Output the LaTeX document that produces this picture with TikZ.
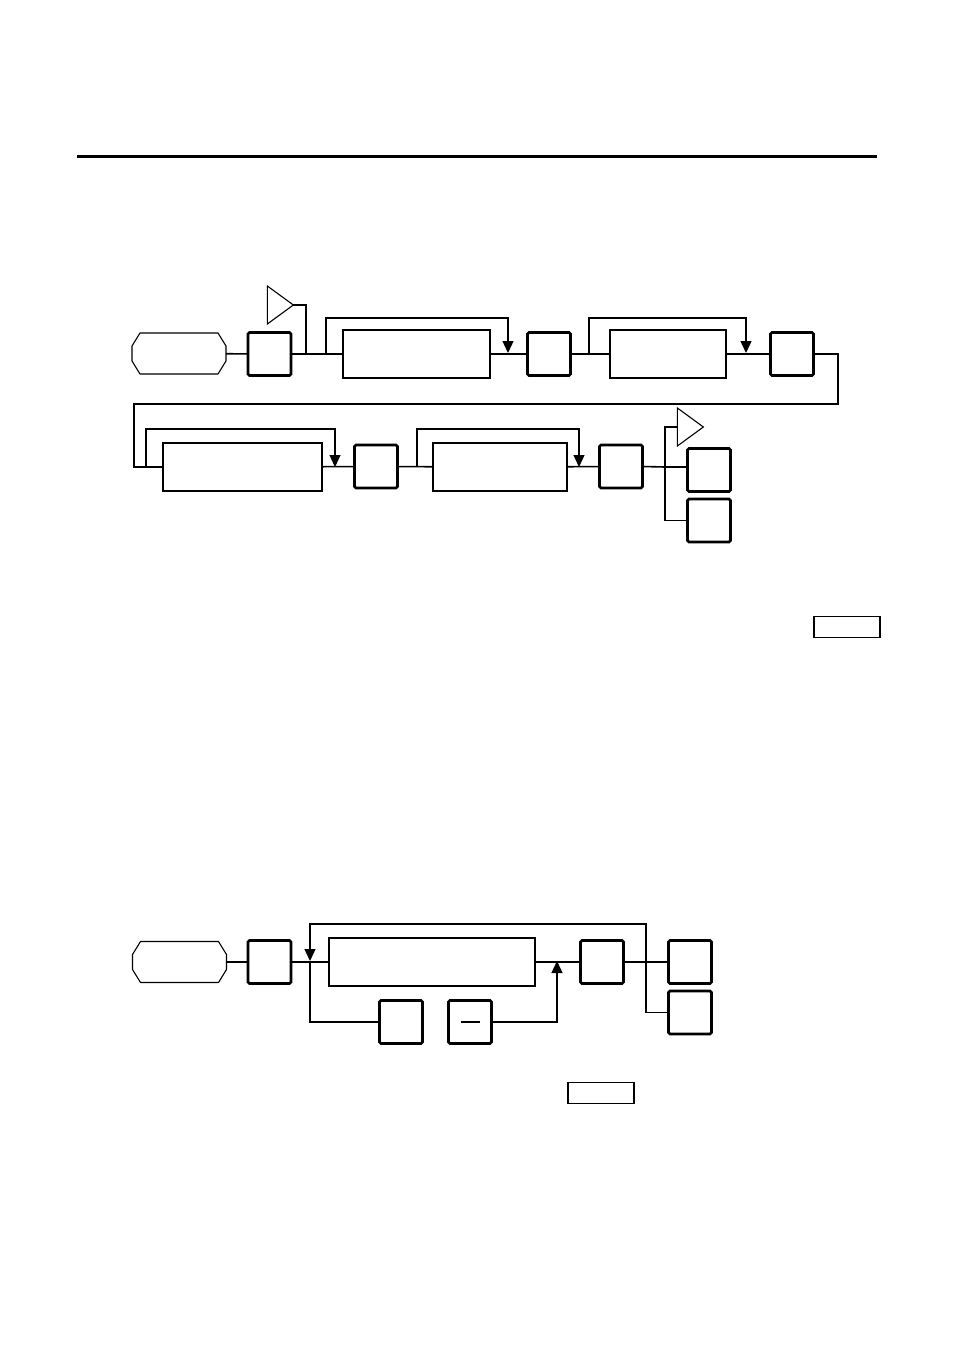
\documentclass[tikz,border=0pt]{standalone}
\usetikzlibrary{arrows.meta,shapes.geometric}
\begin{document}
\begin{tikzpicture}[%
    x=1pt, y=-1pt,                           % one unit is one pixel of the page
    >={Triangle[width=11pt,length=12pt]},    % solid heads on the bypass lines
    ]
% -------------------------------------------------
% Box and line styles
\tikzset{
  base/.style={draw, inner sep=0pt, outer sep=0pt},
  key/.style={base, line width=2.6pt, rounded corners=1.5pt, minimum width=43pt, minimum height=43pt},
  field/.style={base, line width=1.8pt, minimum height=48pt},
  term/.style={inner sep=0pt, outer sep=0pt, minimum width=94pt, minimum height=41pt},
  amp/.style={base, line width=1.1pt, isosceles triangle, isosceles triangle stretches,
    minimum width=38pt, minimum height=26pt},
  tab/.style={base, line width=1.5pt, minimum width=66pt, minimum height=21pt},
  wire/.style={draw, line width=1.6pt},
  loop/.style={draw, line width=1.3pt},
  edge/.style={draw, line width=1.1pt, line join=round},
}
% outline of a start terminal with cut corners
\newcommand{\termline}[1]{%
  \draw[edge] ([xshift=8pt]#1.north west) -- ([xshift=-8pt]#1.north east)
    -- ([yshift=-13pt]#1.north east) -- ([yshift=13pt]#1.south east)
    -- ([xshift=-8pt]#1.south east) -- ([xshift=8pt]#1.south west)
    -- ([yshift=13pt]#1.south west) -- ([yshift=-13pt]#1.north west) -- cycle;}
\useasboundingbox (0,0) rectangle (954,1351);
\draw[line width=3pt] (77,157) -- (877,157);

% -------------------------------------------------
% First sequence, upper row
\node [term] (start) at (179,353.5) {};
\termline{start}
\node [key] (k1) at (269.5,354) {};
\node [amp] (a1) at (277,305) {};
\node [field, minimum width=147pt] (f1) at (416.5,354) {};
\node [key] (k2) at (549,354) {};
\node [field, minimum width=116pt] (f2) at (668,354) {};
\node [key] (k3) at (792,354) {};
% lower row
\node [field, minimum width=159pt] (f3) at (242.5,467) {};
\node [key] (k4) at (376,466.5) {};
\node [field, minimum width=134pt] (f4) at (500,467) {};
\node [key] (k5) at (621,466.5) {};
\node [amp] (a2) at (687,427) {};
\node [key] (k6) at (709,470) {};
\node [key] (k7) at (709,520.5) {};
\node [tab] (t1) at (847,627) {};

\coordinate (p1) at (306,353);
\coordinate (b1s) at (326,353);  \coordinate (b1e) at (508,353);
\coordinate (b2s) at (589,353);  \coordinate (b2e) at (746,353);
\coordinate (b3s) at (146,467);  \coordinate (b3e) at (335,467);
\coordinate (b4s) at (417,467);  \coordinate (b4e) at (579,467);
\coordinate (fork1) at (665,467);

\draw[wire] (start) -- (k1);
\draw[wire] (k1) -- (f1);
\draw[loop] (a1.apex) -| (p1);
\draw[loop,->] (b1s) -- ++(0,-35) -| (b1e);
\draw[wire] (f1) -- (k2);
\draw[wire] (k2) -- (f2);
\draw[loop,->] (b2s) -- ++(0,-35) -| (b2e);
\draw[wire] (f2) -- (k3);
\draw[wire] (k3.east) -| (838,404) -| (134,467) -- (f3.west);
\draw[loop,->] (b3s) -- ++(0,-38) -| (b3e);
\draw[wire] (f3) -- (k4);
\draw[wire] (k4) -- (f4);
\draw[loop,->] (b4s) -- ++(0,-38) -| (b4e);
\draw[wire] (f4) -- (k5);
\draw[wire] (k5.east) -- (fork1);
\draw[loop] (a2.west) -| (fork1);
\draw[wire] (fork1) -- (fork1 -| k6.west);
\draw[loop] (fork1) |- (k7.west);

% -------------------------------------------------
% Second sequence
\node [term] (start2) at (179.5,962) {};
\termline{start2}
\node [key] (k8) at (269.5,962) {};
\node [field, minimum width=206pt] (f5) at (432,962) {};
\node [key] (k9) at (401,1022) {};
\node [key] (k10) at (470,1022) {};
\node [key] (k11) at (602,962) {};
\node [key] (k12) at (690,962) {};
\node [key] (k13) at (690,1012.5) {};
\node [tab] (t2) at (601,1093) {};
\draw[line width=1.5pt] ([xshift=-9.5pt]k10.center) -- ([xshift=9.5pt]k10.center);

\coordinate (d1) at (310,961);
\coordinate (u1) at (557,961);

\draw[wire] (start2) -- (k8);
\draw[wire] (k8) -- (f5);
\draw[loop,<-] (d1) |- (646,924) |- (k13.west);
\draw[loop] (d1) |- (k9.west);
\draw[loop,->] (k10.east) -| (u1);
\draw[wire] (f5) -- (k11);
\draw[wire] (k11) -- (k12);

% -------------------------------------------------
\end{tikzpicture}
\end{document}
